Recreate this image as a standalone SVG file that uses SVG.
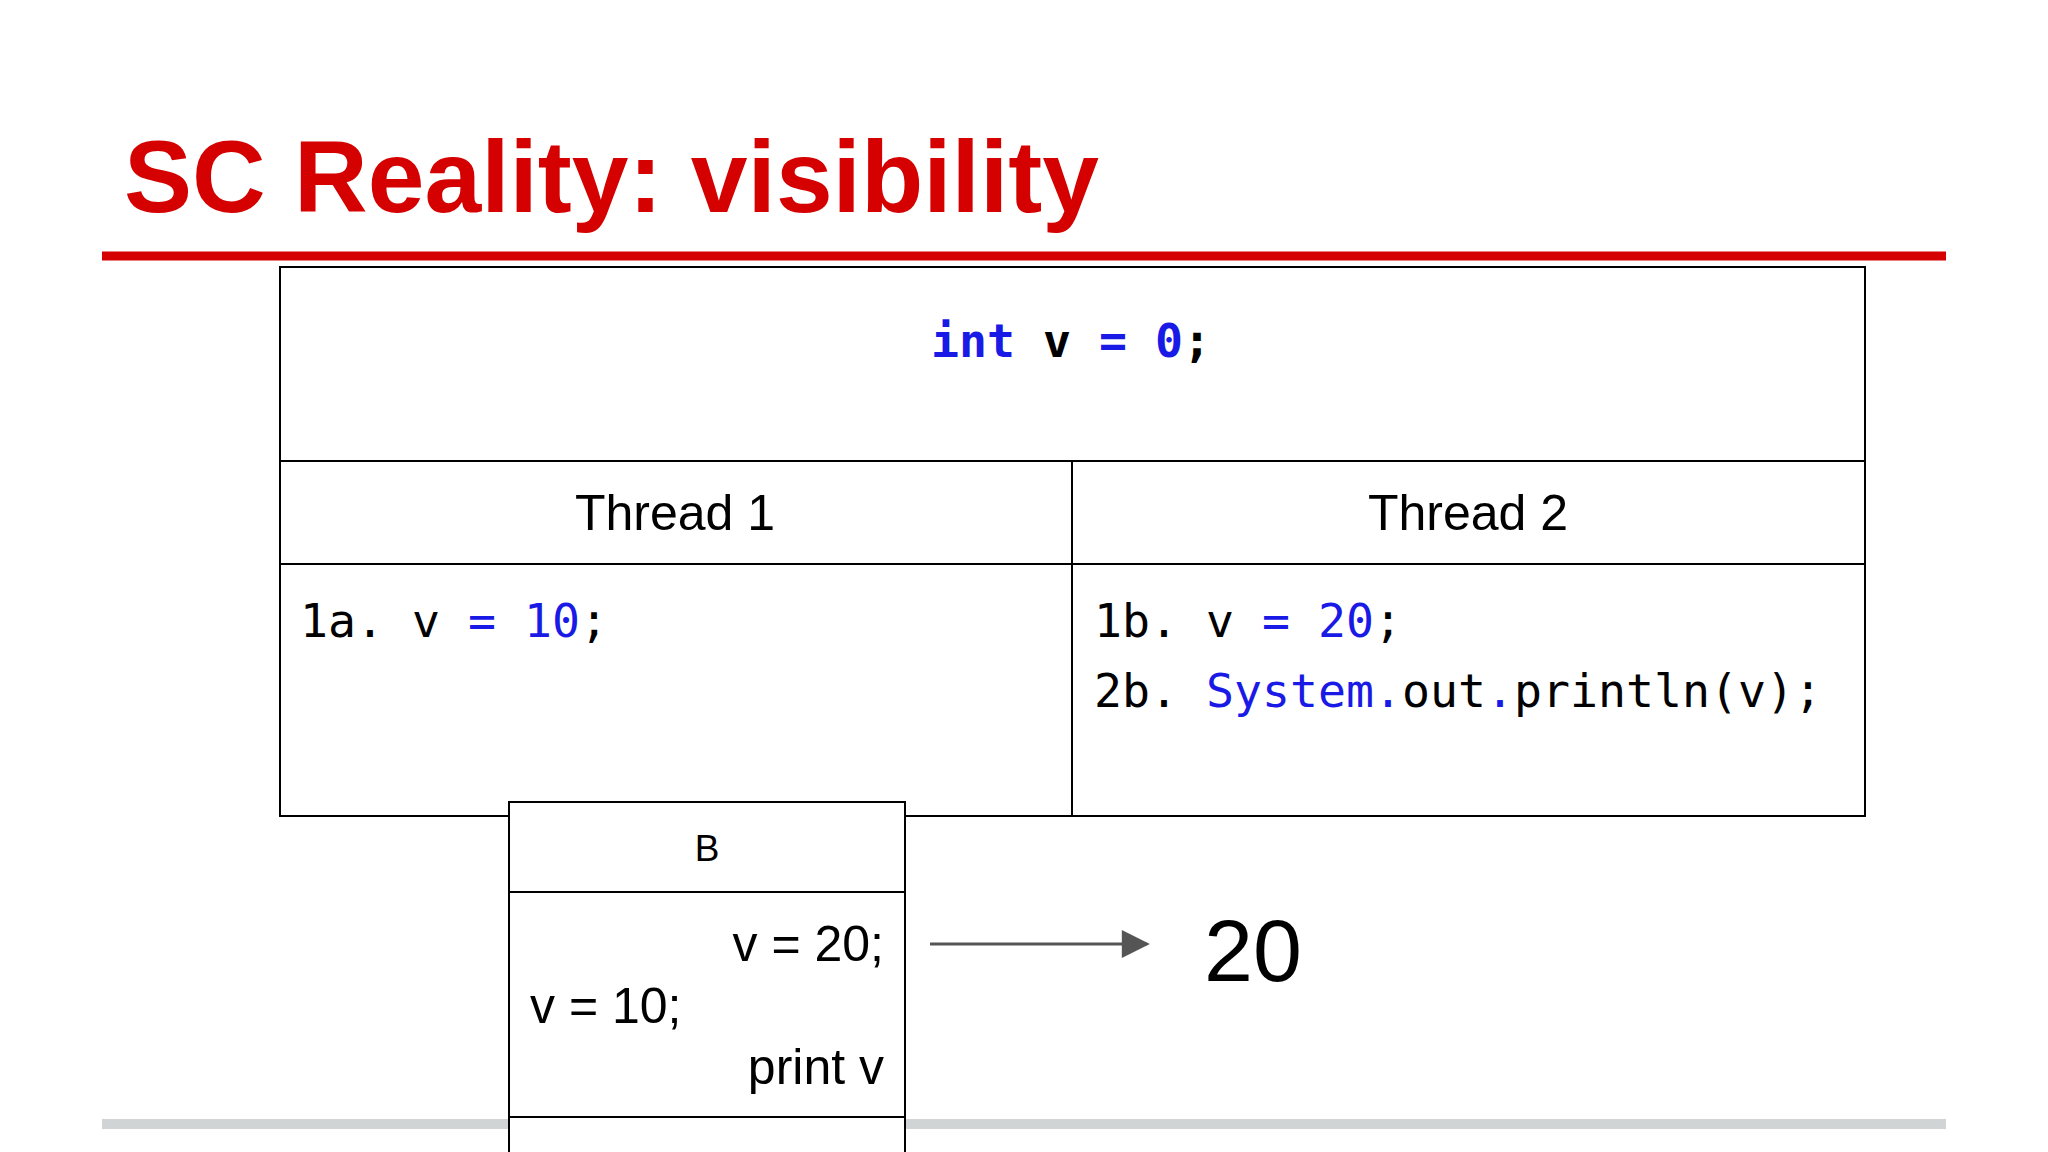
<svg xmlns="http://www.w3.org/2000/svg" width="2048" height="1152" viewBox="0 0 2048 1152">
<style>
.s{font-family:"Liberation Sans",Arial,sans-serif;fill:#000}
.m{font-family:"DejaVu Sans Mono","Liberation Mono",monospace;fill:#000;font-size:46.5px}
.b{fill:#1a1ae6}
.box{fill:none;stroke:#000;stroke-width:2}
</style>
<defs>
<marker id="a" viewBox="0 0 10 10" refX="9" refY="5" markerWidth="30" markerHeight="28" markerUnits="userSpaceOnUse" orient="auto"><path d="M0,0 L10,5 L0,10 z" fill="#555"/></marker></defs>
<rect width="2048" height="1152" fill="#fff"/>
<g id="title"><text class="s" x="124" y="212" font-size="102" font-weight="bold" style="fill:#d50000">SC Reality: visibility</text>
<line x1="102" y1="256" x2="1946" y2="256" stroke="#d50000" stroke-width="9"/></g>
<line x1="102" y1="1124" x2="1946" y2="1124" stroke="#d0d4d4" stroke-width="10"/>
<g id="table">
<rect class="box" x="280" y="267" width="1585" height="549"/>
<line class="box" x1="280" y1="461" x2="1865" y2="461"/>
<line class="box" x1="280" y1="564" x2="1865" y2="564"/>
<line class="box" x1="1072" y1="461" x2="1072" y2="816"/>
<text class="m" x="1071" y="357" text-anchor="middle" font-weight="bold" font-size="46"><tspan class="b">int</tspan> v <tspan class="b">=</tspan> <tspan class="b">0</tspan>;</text>
<text class="s" x="675" y="530" font-size="50" text-anchor="middle">Thread 1</text>
<text class="s" x="1468" y="530" font-size="50" text-anchor="middle">Thread 2</text>
<text class="m" x="300" y="637">1a. v <tspan class="b">=</tspan> <tspan class="b">10</tspan>;</text>
<text class="m" x="1094" y="637">1b. v <tspan class="b">=</tspan> <tspan class="b">20</tspan>;</text>
<text class="m" x="1094" y="707">2b. <tspan class="b">System.</tspan>out<tspan class="b">.</tspan>println(v);</text>
</g>
<g id="B">
<rect x="509" y="802" width="396" height="360" fill="#fff" stroke="#000" stroke-width="2"/>
<line class="box" x1="509" y1="892" x2="905" y2="892"/>
<line class="box" x1="509" y1="1117" x2="905" y2="1117"/>
<text class="s" x="707" y="861" font-size="37" text-anchor="middle">B</text>
<text class="s" x="884" y="961" font-size="50" text-anchor="end">v = 20;</text>
<text class="s" x="530" y="1023" font-size="50">v = 10;</text>
<text class="s" x="884" y="1084" font-size="50" text-anchor="end">print v</text>
</g>
<g id="connectors"><line x1="930" y1="944" x2="1147" y2="944" stroke="#555" stroke-width="3" marker-end="url(#a)"/></g>
<g id="result"><text class="s" x="1204" y="981" font-size="88">20</text></g>
</svg>
